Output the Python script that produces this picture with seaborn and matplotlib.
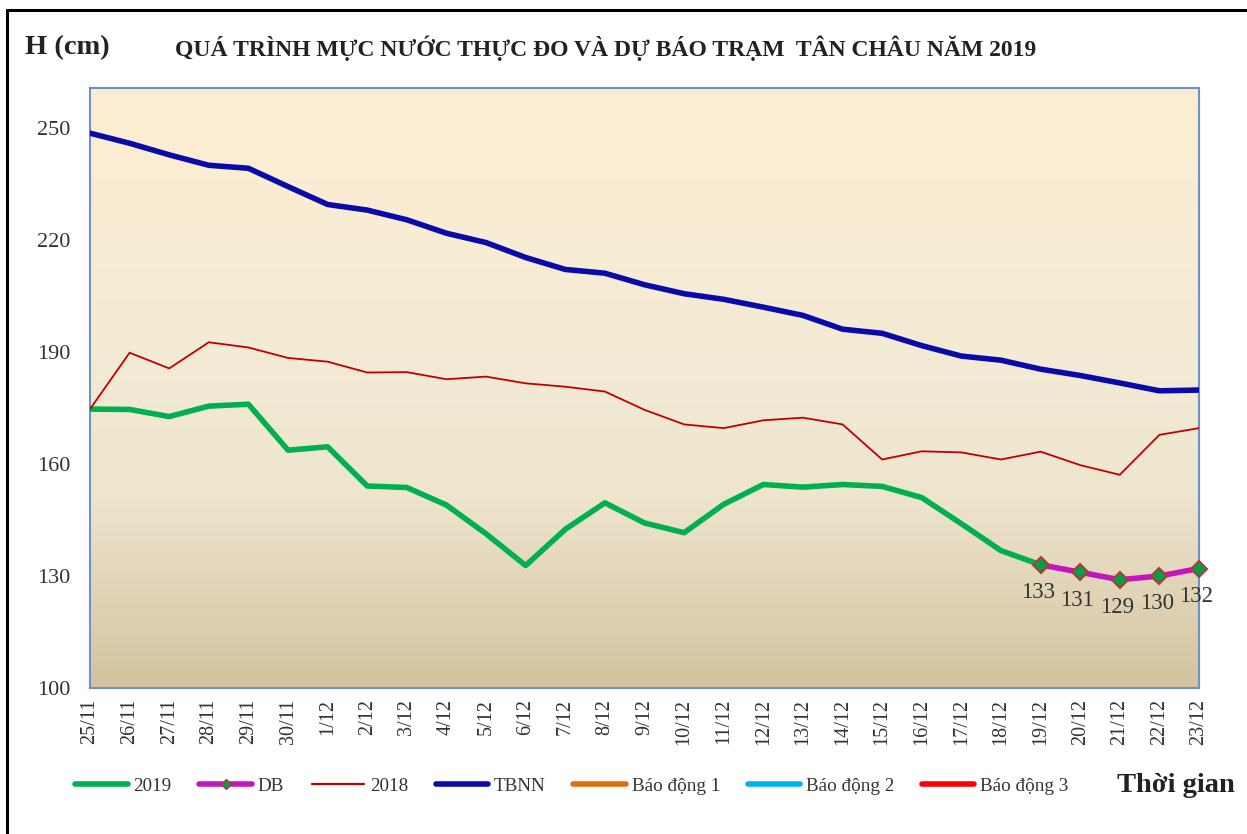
import numpy as np
import pandas as pd
import matplotlib
matplotlib.use("Agg")
import matplotlib.pyplot as plt
from matplotlib.colors import LinearSegmentedColormap
from matplotlib.lines import Line2D
import seaborn as sns

# ---------------- data ----------------
dates = ['25/11', '26/11', '27/11', '28/11', '29/11', '30/11', '1/12', '2/12', '3/12',
         '4/12', '5/12', '6/12', '7/12', '8/12', '9/12', '10/12', '11/12', '12/12',
         '13/12', '14/12', '15/12', '16/12', '17/12', '18/12', '19/12', '20/12',
         '21/12', '22/12', '23/12']

h2019 = [174.7, 174.6, 172.7, 175.5, 176.0, 163.7, 164.6, 154.1, 153.7, 149.0,
         141.3, 132.8, 142.5, 149.6, 144.2, 141.6, 149.2, 154.5, 153.8, 154.5,
         154.0, 151.0, 144.0, 136.8, 133.0]

db_dates = ['19/12', '20/12', '21/12', '22/12', '23/12']
db_values = [133, 131, 129, 130, 132]

h2018 = [174.7, 189.8, 185.6, 192.6, 191.2, 188.4, 187.4, 184.5, 184.6, 182.7,
         183.4, 181.6, 180.7, 179.4, 174.5, 170.6, 169.6, 171.7, 172.4, 170.6,
         161.2, 163.4, 163.1, 161.2, 163.3, 159.7, 157.1, 167.8, 169.6]

tbnn = [248.6, 245.9, 242.8, 240.0, 239.2, 234.3, 229.5, 228.0, 225.4, 221.8,
        219.3, 215.3, 212.1, 211.1, 208.0, 205.6, 204.1, 202.0, 199.8, 196.1,
        195.0, 191.7, 188.9, 187.8, 185.4, 183.7, 181.7, 179.6, 179.8]

alarm_levels = [350, 400, 450]   # Báo động 1, 2, 3 (outside the visible range)

yticks = [100, 130, 160, 190, 220, 250]

# ---------------- style ----------------
sns.set_theme(style="white")
plt.rcParams['font.family'] = ['Liberation Serif', 'DejaVu Serif']

fig = plt.figure(figsize=(12.47, 8.34), dpi=100)
ax = fig.add_axes([90 / 1247, 1 - 688 / 834, (1199 - 90) / 1247, (688 - 88) / 834])

idx = {d: i for i, d in enumerate(dates)}
df2019 = pd.DataFrame({'x': [idx[d] for d in dates[:len(h2019)]], 'y': h2019})
dfdb = pd.DataFrame({'x': [idx[d] for d in db_dates], 'y': db_values})
df2018 = pd.DataFrame({'x': list(range(len(h2018))), 'y': h2018})
dftb = pd.DataFrame({'x': list(range(len(tbnn))), 'y': tbnn})

# gradient background
cmap = LinearSegmentedColormap.from_list(
    'bg', [(0.0, '#FDEED2'), (0.45, '#F4EBD6'), (0.68, '#EEE5CF'), (1.0, '#D3C39F')])
grad = np.linspace(0, 1, 256).reshape(-1, 1)
ax.imshow(grad, cmap=cmap, aspect='auto', extent=[0, 1, 0, 1],
          transform=ax.transAxes, zorder=0)

lw_thick = 4.0
kw = dict(ax=ax, x='x', y='y', legend=False, zorder=3)
sns.lineplot(data=df2019, color='#00B050', linewidth=lw_thick,
             solid_capstyle='round', solid_joinstyle='round', **kw)
sns.lineplot(data=dfdb, color='#C414C0', linewidth=lw_thick,
             solid_joinstyle='round', **kw)
ax.plot(dfdb['x'], dfdb['y'], linestyle='none', marker='D', markersize=8,
        markerfacecolor='#00A04A', markeredgecolor='#B23A3A', markeredgewidth=1.5,
        zorder=5, clip_on=False)
sns.lineplot(data=df2018, color='#C00000', linewidth=1.3, **kw)
sns.lineplot(data=dftb, color='#0A0AAA', linewidth=lw_thick,
             solid_joinstyle='round', **kw)
for lvl, c in zip(alarm_levels, ['#E46C0A', '#00B0F0', '#FF0000']):
    ax.axhline(lvl, color=c, linewidth=lw_thick)

# data labels
for xv, yv in zip(dfdb['x'], dfdb['y']):
    ax.annotate(f'{yv}', (xv, yv), xytext=(-2, -20), textcoords='offset points',
                ha='center', va='center', fontsize=16.5, color='#333333', zorder=6,
                annotation_clip=False)

ax.set_xlim(0, len(dates) - 1)
ax.set_ylim(100, 260.7)
ax.set_yticks(yticks)
ax.set_yticklabels([str(t) for t in yticks], fontsize=16, color='#333333')
ax.set_xticks(range(len(dates)))
ax.set_xticklabels(dates, rotation=90, fontsize=14.5, color='#333333')
ax.tick_params(axis='y', length=0, pad=14)
ax.tick_params(axis='x', length=0, pad=8)
ax.set_xlabel('')
ax.set_ylabel('')
for s in ax.spines.values():
    s.set_visible(True)
    s.set_color('#6C92C8')
    s.set_linewidth(1.5)
ax.grid(False)

# titles
fig.text(25 / 1247, 1 - 48 / 834, 'H (cm)', fontsize=20.5, fontweight='bold',
         color='#222222', va='center', ha='left')
fig.text(175 / 1247, 1 - 48 / 834,
         'QUÁ TRÌNH MỰC NƯỚC THỰC ĐO VÀ DỰ BÁO TRẠM  TÂN CHÂU NĂM 2019',
         fontsize=17, fontweight='bold', color='#222222', va='center', ha='left')
fig.text(1235 / 1247, 1 - 785 / 834, 'Thời gian', fontsize=20.5, fontweight='bold',
         color='#222222', va='center', ha='right')

# legend
handles = [
    Line2D([], [], color='#00B050', linewidth=lw_thick, solid_capstyle='round'),
    Line2D([], [], color='#C414C0', linewidth=lw_thick, solid_capstyle='round',
           marker='D', markersize=5, markerfacecolor='#00A04A', markeredgecolor='#B23A3A'),
    Line2D([], [], color='#C00000', linewidth=1.6),
    Line2D([], [], color='#0A0AAA', linewidth=lw_thick, solid_capstyle='round'),
    Line2D([], [], color='#E46C0A', linewidth=lw_thick, solid_capstyle='round'),
    Line2D([], [], color='#00B0F0', linewidth=lw_thick, solid_capstyle='round'),
    Line2D([], [], color='#FF0000', linewidth=lw_thick, solid_capstyle='round'),
]
labels = ['2019', 'DB', '2018', 'TBNN', 'Báo động 1', 'Báo động 2', 'Báo động 3']
leg = fig.legend(handles, labels, loc='center left',
                 bbox_to_anchor=(58 / 1247, 1 - 786 / 834), ncol=7, frameon=False,
                 fontsize=13.75, handlelength=2.75, handletextpad=0.3,
                 columnspacing=1.45, labelcolor='#333333')

# outer frame (left and top edges)
fig.add_artist(Line2D([7 / 1247, 7 / 1247], [0, 1 - 10 / 834], color='black',
                      linewidth=2.2, transform=fig.transFigure))
fig.add_artist(Line2D([7 / 1247, 1], [1 - 10 / 834, 1 - 10 / 834], color='black',
                      linewidth=2.2, transform=fig.transFigure))

fig.savefig('out.png', dpi=100, facecolor='white')
